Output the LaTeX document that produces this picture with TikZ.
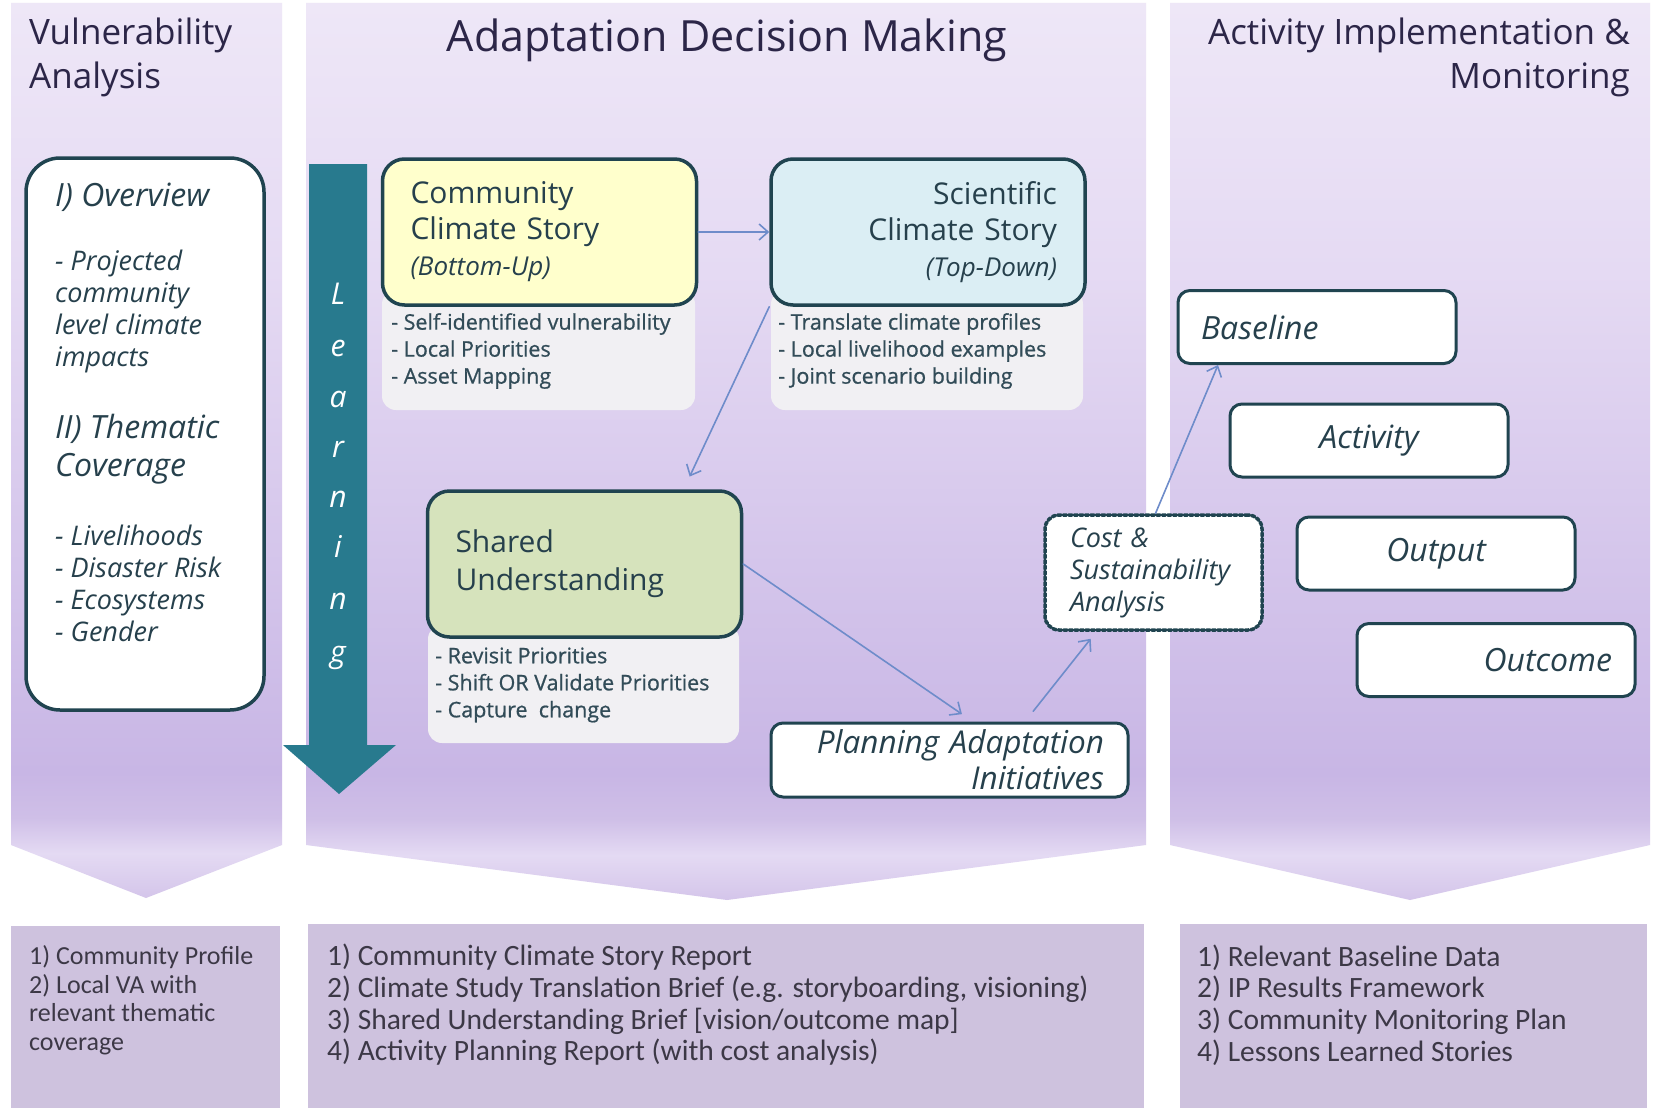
\documentclass[tikz,border=0pt]{standalone}
\usepackage{fontspec}
\setmainfont{Open Sans}
\newfontfamily\calibri{Carlito}
\newfontfamily\notefont[FakeBold=0.8]{Open Sans}
\usetikzlibrary{arrows.meta,positioning}

\definecolor{headtext}{RGB}{44,38,72}
\definecolor{boxline}{RGB}{32,68,80}
\definecolor{boxtext}{RGB}{38,64,76}
\definecolor{notecol}{RGB}{50,76,88}
\definecolor{listtext}{RGB}{60,56,70}
\definecolor{learnteal}{RGB}{40,122,142}
\definecolor{flowblue}{RGB}{110,140,202}
\definecolor{storyyellow}{RGB}{255,255,204}
\definecolor{storyblue}{RGB}{219,238,244}
\definecolor{sharedgreen}{RGB}{214,227,188}
\definecolor{notegrey}{RGB}{241,240,243}
\definecolor{outbox}{RGB}{206,194,222}
\definecolor{paneltop}{RGB}{238,231,247}
\definecolor{panelmid}{RGB}{229,218,243}
\definecolor{paneldeep}{RGB}{200,182,229}
\definecolor{panelfold}{RGB}{207,191,231}
\definecolor{panelglow}{RGB}{228,218,243}
\definecolor{panelbase}{RGB}{212,197,234}

% column body: light at the top, deep lilac near the fold, lighter chevron
\pgfdeclareverticalshading{panelshade}{100bp}{%
  color(0bp)=(panelbase); color(25bp)=(panelbase); color(27.5bp)=(panelglow);
  color(29.5bp)=(panelfold); color(32bp)=(paneldeep); color(60bp)=(panelmid);
  color(75bp)=(paneltop); color(100bp)=(paneltop)}

\begin{document}
\begin{tikzpicture}[x=1pt, y=-1pt, line join=round, line cap=round,
  >={Straight Barb[length=9pt,width=16pt]},
  head/.style={text=headtext, inner sep=0pt, font=\fontsize{35}{44}\selectfont},
  story/.style={draw=boxline, line width=3.5pt, rounded corners=22pt,
    minimum width=314pt, minimum height=146pt, text width=258pt, inner sep=0pt,
    text=boxtext, font=\fontsize{30}{36}\selectfont},
  note/.style={fill=notegrey, rounded corners=14pt},
  notetext/.style={anchor=west, align=left, inner sep=0pt, text=notecol,
    font=\notefont\fontsize{21.5}{27}\selectfont},
  ovtext/.style={anchor=west, align=left, inner sep=0pt, text=boxtext},
  stage/.style={draw=boxline, line width=3pt, fill=white, rounded corners=12pt,
    minimum width=278pt, minimum height=73pt, text width=232pt, inner sep=0pt,
    text=boxtext, font=\fontsize{32}{36}\selectfont\itshape},
  flow/.style={->, draw=flowblue, line width=1.6pt},
  outlist/.style={anchor=west, align=left, inner sep=0pt, text=listtext}]

\useasboundingbox (0,0) rectangle (1656,1108);
\fill[white] (0,0) rectangle (1656,1108);

% the three columns
\shade[shading=panelshade] (11,3) -- (282,3) -- (282,845) -- (146,898) -- (11,845) -- cycle;
\shade[shading=panelshade] (306,3) -- (1146,3) -- (1146,845) -- (727,900) -- (306,845) -- cycle;
\shade[shading=panelshade] (1170,3) -- (1650,3) -- (1650,845) -- (1410,900) -- (1170,845) -- cycle;

% products under each column
\fill[outbox] (11,926) rectangle (280,1108);
\fill[outbox] (308,924) rectangle (1144,1108);
\fill[outbox] (1180,924) rectangle (1647,1108);

\node[head, anchor=west, align=left] (vahead) at (29,57) {Vulnerability\\Analysis};
\node[head, font=\fontsize{43}{50}\selectfont] (admhead) at (727,40) {Adaptation Decision Making};
\node[head, anchor=east, align=right] (aimhead) at (1630,57) {Activity Implementation \&\\Monitoring};

% vulnerability analysis
\node[draw=boxline, line width=3.5pt, fill=white, rounded corners=34pt,
  minimum width=238pt, minimum height=552pt] (overview) at (145,434) {};
\node[ovtext, font=\fontsize{32}{40}\selectfont\itshape] (ovhead) at (55,197) {I) Overview};
\node[ovtext, font=\fontsize{27}{32}\selectfont\itshape] (ovproj) at (55,311) {- Projected\\community\\level climate\\impacts};
\node[ovtext, font=\fontsize{32}{38}\selectfont\itshape] (ovtheme) at (55,449) {II) Thematic\\Coverage};
\node[ovtext, font=\fontsize{27}{32}\selectfont\itshape] (ovlist) at (55,583) {- Livelihoods\\- Disaster Risk\\- Ecosystems\\- Gender};

% learning arrow
\fill[learnteal] (309,164) -- (367,164) -- (367,745) -- (396,745) -- (339,794) -- (283,745) -- (309,745) -- cycle;
\foreach \ch/\yy [count=\k] in {L/294,e/346,a/397,r/447,n/497,i/547,n/599,g/652}
  \node[anchor=base, inner sep=0pt, text=white, font=\fontsize{30}{30}\selectfont\itshape] (learn\k) at (338,\yy+10) {\ch};

% climate stories
\fill[note] (382,290) rectangle (695,410);
\fill[note] (771,290) rectangle (1083,410);
\fill[note] (428,625) rectangle (739,743);

\node[story, fill=storyyellow, align=left] (community) at (539.5,232)
  {Community\\Climate Story\\{\fontsize{26}{36}\selectfont\itshape (Bottom-Up)}};
\node[story, fill=storyblue, align=right] (scientific) at (928,232)
  {Scientific\\Climate Story\\{\fontsize{26}{36}\selectfont\itshape (Top-Down)}};
\node[story, fill=sharedgreen, align=left, font=\fontsize{30}{38}\selectfont] (shared) at (584.5,564)
  {Shared\\Understanding};

\node[notetext] (communitynote) at (391,351) {- Self-identified vulnerability\\- Local Priorities\\- Asset Mapping};
\node[notetext] (scientificnote) at (778,351) {- Translate climate profiles\\- Local livelihood examples\\- Joint scenario building};
\node[notetext] (sharednote) at (435,685) {- Revisit Priorities\\- Shift OR Validate Priorities\\- Capture\ \ change};

\node[stage, minimum width=357pt, minimum height=74pt, text width=309pt, align=right,
  font=\fontsize{31.5}{36}\selectfont\itshape] (planning) at (949.5,760)
  {Planning Adaptation\\Initiatives};
\node[draw=boxline, line width=3.5pt, dotted, fill=white, rounded corners=14pt,
  minimum width=217pt, minimum height=115pt, text width=167pt, inner sep=0pt, align=left,
  text=boxtext, font=\fontsize{27}{32}\selectfont\itshape] (cost) at (1153.5,572.5)
  {Cost \&\\Sustainability\\Analysis};

% implementation and monitoring
\node[stage, align=left] (baseline) at (1317,327) {Baseline};
\node[stage, align=center] (activity) at (1369,440.5) {Activity};
\node[stage, align=center] (output) at (1436,553.5) {Output};
\node[stage, align=right] (outcome) at (1496,660) {Outcome};

\draw[flow] (community) -- (scientific);
\draw[flow, shorten >=14pt] (scientific.south west) -- (shared.37);
\draw[flow, shorten >=13pt] (shared.east) -- (planning.59);
\draw[flow, shorten <=13pt, shorten >=9pt] (planning.27) -- (cost.226);
\draw[flow] (cost.88) -- (baseline.201);

\node[outlist, font=\calibri\fontsize{26}{28.5}\selectfont] (vaout) at (29,1000)
  {1) Community Profile\\2) Local VA with\\relevant thematic\\coverage};
\node[outlist, font=\calibri\fontsize{29.5}{31.7}\selectfont] (admout) at (327,1005)
  {1) Community Climate Story Report\\2) Climate Study Translation Brief (e.g. storyboarding, visioning)\\3) Shared Understanding Brief [vision/outcome map]\\4) Activity Planning Report (with cost analysis)};
\node[outlist, font=\calibri\fontsize{29.5}{31.7}\selectfont] (aimout) at (1197,1005)
  {1) Relevant Baseline Data\\2) IP Results Framework\\3) Community Monitoring Plan\\4) Lessons Learned Stories};
\end{tikzpicture}
\end{document}
